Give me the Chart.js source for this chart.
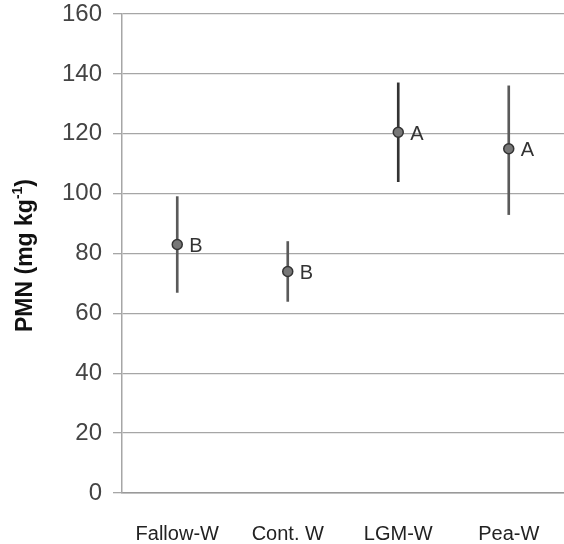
<!DOCTYPE html>
<html>
<head>
<meta charset="utf-8">
<script src="https://cdn.jsdelivr.net/npm/chart.js@4/dist/chart.umd.min.js"></script>
<style>
  html, body { margin: 0; padding: 0; background: #fff; }
  #wrap { width: 564px; height: 544px; }
</style>
</head>
<body>
<div id="wrap"><canvas id="c" width="564" height="544"></canvas></div>
<script>
const categories = ['Fallow-W', 'Cont. W', 'LGM-W', 'Pea-W'];
const means = [83, 74, 120.5, 115];
const lows = [67, 64, 104, 93];
const highs = [99, 84, 137, 136];
const letters = ['B', 'B', 'A', 'A'];
const yTitleMain = 'PMN (mg kg';
const yTitleSup = '-1';
const yTitleEnd = ')';
const yMin = 0, yMax = 160, yStep = 20;

const FONT = '"Liberation Sans", Arial, sans-serif';

const letterPlugin = {
  id: 'letters',
  afterDatasetsDraw(chart) {
    const meta = chart.getDatasetMeta(1);
    const ctx = chart.ctx;
    ctx.save();
    ctx.fillStyle = '#333';
    ctx.font = '20px ' + FONT;
    ctx.textBaseline = 'middle';
    ctx.textAlign = 'left';
    meta.data.forEach((pt, i) => {
      ctx.fillText(letters[i], pt.x + 12, pt.y + 2);
    });
    ctx.restore();
  }
};

const titlePlugin = {
  id: 'ytitle',
  afterDraw(chart) {
    const ctx = chart.ctx;
    const ca = chart.chartArea;
    ctx.save();
    const main = 'bold 23px ' + FONT;
    const sup = 'bold 14px ' + FONT;
    ctx.font = main;
    const w1 = ctx.measureText(yTitleMain).width;
    const w3 = ctx.measureText(yTitleEnd).width;
    ctx.font = sup;
    const w2 = ctx.measureText(yTitleSup).width;
    const total = w1 + w2 + w3;
    const cy = (ca.top + ca.bottom) / 2 + 2;
    ctx.translate(26, cy);
    ctx.rotate(-Math.PI / 2);
    ctx.fillStyle = '#111';
    ctx.textBaseline = 'middle';
    ctx.textAlign = 'left';
    let x = -total / 2;
    ctx.font = main;
    ctx.fillText(yTitleMain, x, 0);
    x += w1;
    ctx.font = sup;
    ctx.fillText(yTitleSup, x, -8);
    x += w2;
    ctx.font = main;
    ctx.fillText(yTitleEnd, x, 0);
    ctx.restore();
  }
};

new Chart(document.getElementById('c'), {
  data: {
    labels: categories,
    datasets: [
      {
        type: 'bar',
        data: categories.map((c, i) => [lows[i], highs[i]]),
        backgroundColor: ['#5a5a5a', '#5a5a5a', '#333', '#5a5a5a'],
        barThickness: 2,
        grouped: false,
        order: 2
      },
      {
        type: 'line',
        data: means,
        showLine: false,
        pointRadius: 5,
        pointBackgroundColor: '#777',
        pointBorderColor: '#333',
        pointBorderWidth: 1.5,
        order: 1
      }
    ]
  },
  options: {
    responsive: false,
    animation: false,
    layout: { autoPadding: false, padding: { top: 14, right: 0, left: 0, bottom: 0 } },
    plugins: { legend: { display: false }, tooltip: { enabled: false } },
    scales: {
      x: {
        grid: { display: false },
        border: { display: true, color: '#999', width: 1.5 },
        ticks: { color: '#222', font: { family: FONT, size: 20 }, padding: 21 },
        afterFit(s) { s.height = 51; s.paddingLeft = 0; s.paddingRight = 0; }
      },
      y: {
        min: yMin, max: yMax,
        ticks: { stepSize: yStep, color: '#444', font: { family: FONT, size: 24 }, padding: 11 },
        grid: { color: '#a6a6a6', lineWidth: 1.3, tickLength: 9 },
        border: { display: true, color: '#a6a6a6', width: 1.5 },
        title: { display: false },
        afterFit(s) { s.width = 122; s.paddingTop = 0; s.paddingBottom = 0; }
      }
    }
  },
  plugins: [letterPlugin, titlePlugin]
});
</script>
</body>
</html>
